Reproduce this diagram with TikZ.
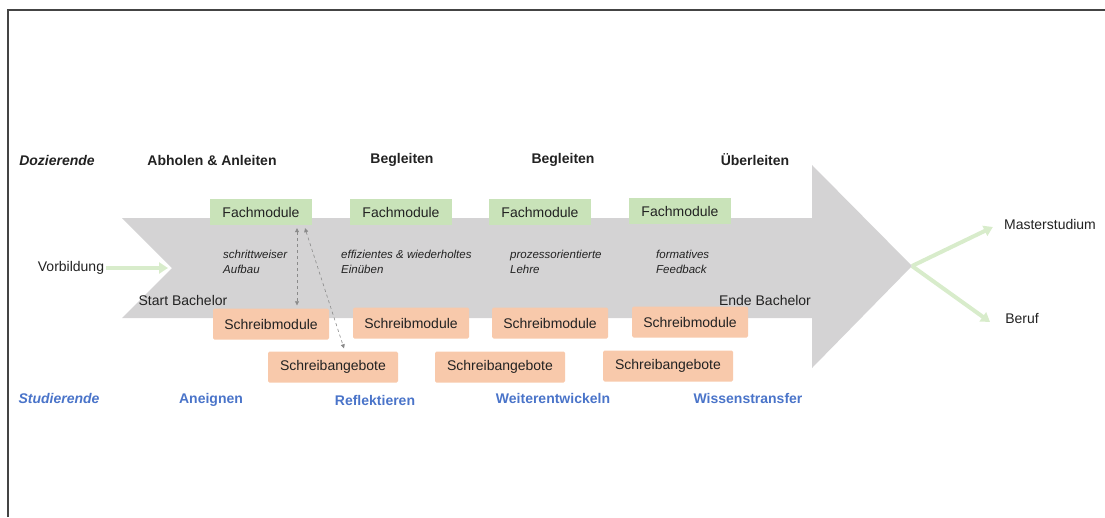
\documentclass[tikz,border=0pt]{standalone}
\usepackage{fontspec}
\setmainfont{Liberation Sans}
\usetikzlibrary{arrows.meta}
\definecolor{framecolor}{HTML}{444444}
\definecolor{arrowgray}{HTML}{D4D3D4}
\definecolor{fachgreen}{HTML}{C9E3B9}
\definecolor{schreiborange}{HTML}{F8C9AB}
\definecolor{studblue}{HTML}{4A74C9}
\definecolor{textgray}{HTML}{222222}
\definecolor{pathborder}{HTML}{D8ECCB}
\definecolor{linkgray}{HTML}{8A8A8A}

\begin{document}
\begin{tikzpicture}[
    x=1pt, y=-1pt,
    every node/.style={font=\fontsize{14}{17}\selectfont, text=textgray, inner sep=2pt},
    fachbox/.style={fill=fachgreen, minimum width=102pt, minimum height=26pt},
    schreibbox/.style={fill=schreiborange, rounded corners=1.5pt, minimum width=116pt, minimum height=31pt},
    angebotbox/.style={fill=schreiborange, rounded corners=1.5pt, minimum width=130pt, minimum height=31pt},
    rolle/.style={font=\fontsize{14}{17}\selectfont\bfseries\itshape},
    phase/.style={font=\fontsize{14}{17}\selectfont\bfseries},
    studphase/.style={font=\fontsize{14}{17}\selectfont\bfseries, text=studblue},
    note/.style={font=\fontsize{11.5}{15}\selectfont\itshape, align=left, anchor=north west, inner sep=0pt},
    link/.style={draw=linkgray, dashed, line width=0.6pt, {Triangle[length=4pt,width=4pt]}-{Triangle[length=4pt,width=4pt]}},
    greenpath/.style={draw=pathborder, line width=4pt, -{Triangle[length=9pt,width=11pt]}}
]

  \useasboundingbox (0,0) rectangle (1105,517);

  % 1. Frame (top and left edge only)
  \draw[framecolor, line width=2pt] (8,517) -- (8,10) -- (1105,10);

  % 2. Big gray arrow (Bachelor)
  \path[fill=arrowgray] (122,218) -- (812,218) -- (812,165) -- (912,266) -- (812,368)
    -- (812,318) -- (122,318) -- (172,268) -- cycle;
  \coordinate (notch) at (168,268);
  \coordinate (tip) at (912,266);

  % 3. Top row: Dozierende
  \node[rolle] (doz) at (57,160) {Dozierende};
  \node[phase] (abholen) at (212,160) {Abholen \& Anleiten};
  \node[phase] (begleiten1) at (402,160) {Begleiten};
  \node[phase] (begleiten2) at (563,160) {Begleiten};
  \node[phase] (ueberleiten) at (755,160) {Überleiten};

  % 4. Fachmodule
  \node[fachbox] (fach1) at (261,212) {Fachmodule};
  \node[fachbox] (fach2) at (401,212) {Fachmodule};
  \node[fachbox] (fach3) at (540,212) {Fachmodule};
  \node[fachbox] (fach4) at (680,211) {Fachmodule};

  % 5. Notes inside the arrow
  \node[note] (note1) at (223,250) {schrittweiser\\Aufbau};
  \node[note] (note2) at (341,250) {effizientes \& wiederholtes\\Einüben};
  \node[note] (note3) at (510,250) {prozessorientierte\\Lehre};
  \node[note] (note4) at (656,250) {formatives\\Feedback};

  \node (start) at (183,300) {Start Bachelor};
  \node (ende) at (765,300) {Ende Bachelor};

  % 6. Schreibmodule and Schreibangebote
  \node[schreibbox] (schreib1) at (271,324) {Schreibmodule};
  \node[schreibbox] (schreib2) at (411,323) {Schreibmodule};
  \node[schreibbox] (schreib3) at (550,323) {Schreibmodule};
  \node[schreibbox] (schreib4) at (690,322) {Schreibmodule};

  \node[angebotbox] (angebot1) at (333,367) {Schreibangebote};
  \node[angebotbox] (angebot2) at (500,367) {Schreibangebote};
  \node[angebotbox] (angebot3) at (668,366) {Schreibangebote};

  % dashed links
  \draw[link] ([xshift=36pt,yshift=-3pt]fach1.south) -- ([xshift=26pt,yshift=3pt]schreib1.north);
  \draw[link] ([xshift=44pt,yshift=-3pt]fach1.south) -- ([xshift=11pt,yshift=3pt]angebot1.north);

  % 7. Entry and exits
  \node (vorbildung) at (71,268) {Vorbildung};
  \node (master) at (1050,224) {Masterstudium};
  \node (beruf) at (1022,318) {Beruf};

  \draw[greenpath] (vorbildung.east) -- (notch);
  \draw[greenpath] (tip) -- ([xshift=-9pt,yshift=-3pt]master.west);
  \draw[greenpath] (tip) -- ([xshift=-13pt,yshift=-4pt]beruf.west);

  % 8. Bottom row: Studierende
  \node[rolle, text=studblue] (stud) at (59,398) {Studierende};
  \node[studphase] (aneignen) at (211,400) {Aneignen};
  \node[studphase] (reflektieren) at (375,400) {Reflektieren};
  \node[studphase] (weiter) at (553,398) {Weiterentwickeln};
  \node[studphase] (transfer) at (748,398) {Wissenstransfer};

\end{tikzpicture}
\end{document}
